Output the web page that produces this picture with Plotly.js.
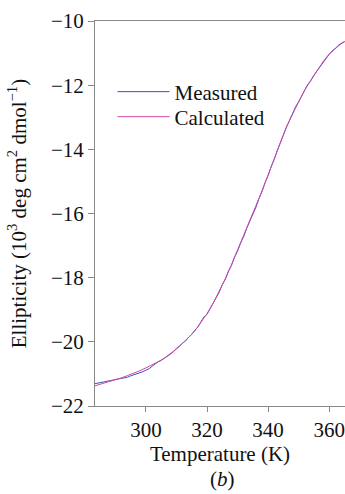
<!DOCTYPE html>
<html>
<head>
<meta charset="utf-8">
<script src="https://cdn.plot.ly/plotly-3.0.1.min.js"></script>
<style>html,body{margin:0;padding:0;background:#fff;}#chart{width:345px;height:494px;}</style>
</head>
<body>
<div id="chart"></div>
<script>
const seriesNames = ["Measured", "Calculated"];
const measuredT = [283,284,285,286,287,288,289,290,291,292,293,294,295,296,297,298,299,300,301,302,303,304,305,306,307,308,309,310,311,312,313,314,315,316,317,318,319,320,321,322,323,324,325,326,327,328,329,330,331,332,333,334,335,336,337,338,339,340,341,342,343,344,345,346,347,348,349,350,351,352,353,354,355,356,357,358,359,360,361,362,363,364,365];
const measuredE = [-21.31,-21.29,-21.27,-21.26,-21.25,-21.22,-21.21,-21.18,-21.16,-21.14,-21.13,-21.10,-21.06,-21.03,-20.99,-20.96,-20.93,-20.88,-20.84,-20.76,-20.68,-20.62,-20.58,-20.51,-20.44,-20.37,-20.30,-20.20,-20.14,-20.04,-19.97,-19.85,-19.77,-19.64,-19.54,-19.38,-19.22,-19.14,-18.96,-18.82,-18.62,-18.45,-18.22,-18.05,-17.80,-17.62,-17.36,-17.17,-16.92,-16.72,-16.46,-16.26,-16.01,-15.81,-15.54,-15.32,-15.04,-14.82,-14.54,-14.32,-14.04,-13.82,-13.56,-13.32,-13.10,-12.90,-12.68,-12.52,-12.32,-12.16,-11.98,-11.86,-11.69,-11.56,-11.40,-11.28,-11.14,-11.04,-10.93,-10.86,-10.76,-10.71,-10.64];
const calculatedT = [283,286,288,290,292,294,296,298,300,302,304,306,308,310,312,314,316,318,320,322,324,326,328,330,332,334,336,338,340,342,344,346,348,350,352,354,356,358,360,362,364,366];
const calculatedE = [-21.38,-21.30,-21.24,-21.18,-21.12,-21.05,-20.98,-20.90,-20.81,-20.72,-20.62,-20.51,-20.39,-20.22,-20.05,-19.86,-19.66,-19.40,-19.12,-18.80,-18.43,-18.03,-17.60,-17.15,-16.70,-16.25,-15.80,-15.30,-14.80,-14.30,-13.80,-13.30,-12.90,-12.50,-12.15,-11.85,-11.55,-11.27,-11.03,-10.85,-10.70,-10.60];
const xTicks = [300, 320, 340, 360];
const yTicks = [-22, -20, -18, -16, -14, -12, -10];

const serif = "Liberation Serif, Times New Roman, serif";
const fs = 21;
const traces = [
  {x: measuredT, y: measuredE, name: seriesNames[0], type: "scatter", mode: "lines",
   line: {color: "#3d4fc4", width: 1}, legend: "legend"},
  {x: calculatedT, y: calculatedE, name: seriesNames[1], type: "scatter", mode: "lines",
   line: {color: "#d04aa8", width: 1}, legend: "legend2"}
];
const legendBase = {xanchor: "left", yanchor: "middle", bgcolor: "rgba(0,0,0,0)",
                    font: {family: serif, size: fs, color: "#111"}, itemwidth: 52};
const layout = {
  width: 345, height: 494,
  margin: {l: 95, r: 0, t: 21, b: 88},
  paper_bgcolor: "#fff", plot_bgcolor: "#fff",
  font: {family: serif, size: fs, color: "#111"},
  showlegend: true,
  legend: Object.assign({x: 0.07, y: 0.8156}, legendBase),
  legend2: Object.assign({x: 0.07, y: 0.7506}, legendBase),
  xaxis: {range: [283.3, 365.2], tickvals: xTicks, ticks: "outside", ticklen: 5, tickcolor: "#888",
          showline: true, linecolor: "#888", linewidth: 1, mirror: true, showgrid: false, zeroline: false,
          tickfont: {family: serif, size: fs},
          title: {text: "Temperature (K)", font: {family: serif, size: fs}, standoff: 2}},
  yaxis: {range: [-22, -10], tickvals: yTicks, ticks: "outside", ticklen: 6, tickcolor: "#888",
          showline: true, linecolor: "#888", linewidth: 1, showgrid: false, zeroline: false,
          tickfont: {family: serif, size: fs},
          title: {text: "Ellipticity (10<sup>3</sup> deg cm<sup>2</sup> dmol<sup>−1</sup>)", font: {family: serif, size: fs}, standoff: 18}},
  annotations: [{text: "(<i>b</i>)", xref: "paper", yref: "paper", x: 0.51, y: -0.19, showarrow: false,
                 xanchor: "center", yanchor: "middle", font: {family: serif, size: fs}}]
};
Plotly.newPlot("chart", traces, layout, {displayModeBar: false, staticPlot: true});
</script>
</body>
</html>
